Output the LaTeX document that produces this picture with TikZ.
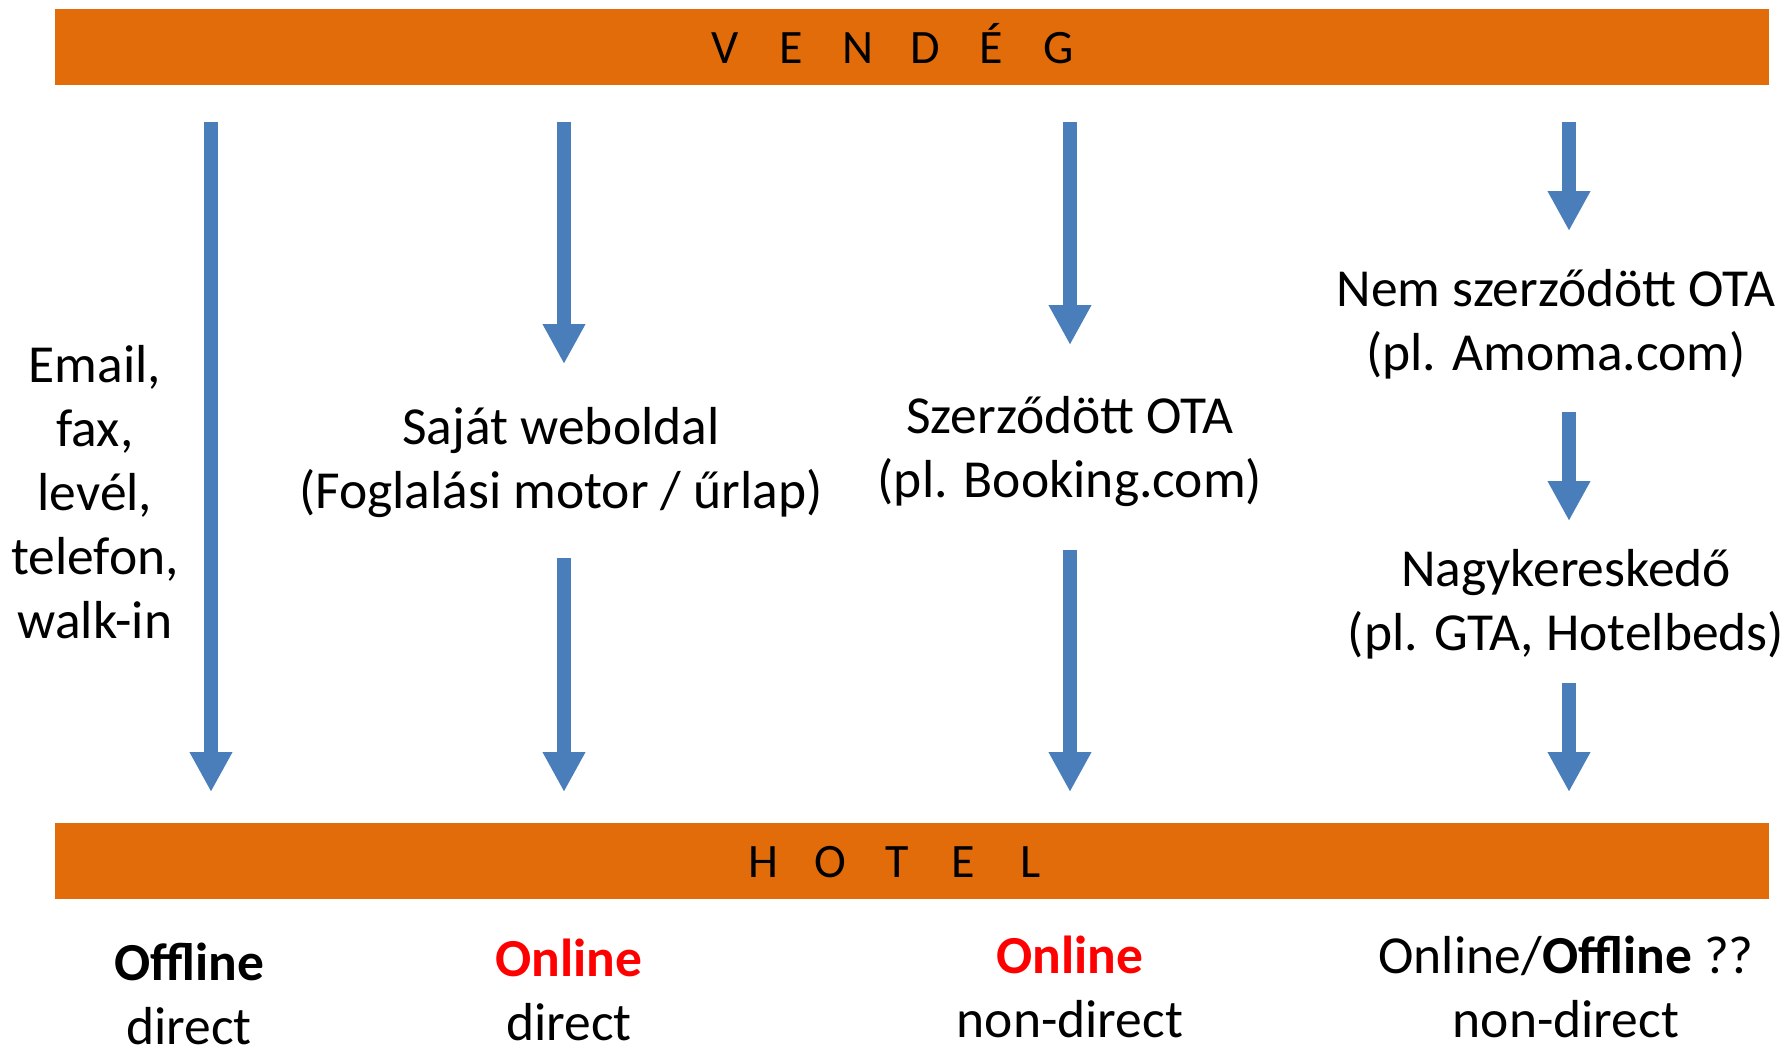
\documentclass[tikz,border=0pt]{standalone}
\usepackage{fontspec}
\setmainfont{Carlito}
\usetikzlibrary{arrows.meta}
\definecolor{barorange}{HTML}{E36C0A}
\definecolor{arrowblue}{HTML}{4A7EBB}
\definecolor{labelred}{HTML}{FF0000}
\newcommand\ltrbox[1]{\makebox[66.7pt]{#1}}
\begin{document}
\begin{tikzpicture}[x=1pt,y=-1pt,
  bar/.style={fill=barorange, draw=none, minimum width=1714pt, minimum height=76pt, inner sep=0pt},
  bartext/.style={anchor=base, font=\fontsize{48}{58}\selectfont, inner sep=0pt},
  txt/.style={anchor=base, align=center, font=\fontsize{53.5}{64}\selectfont, inner sep=0pt},
  flow/.style={draw=arrowblue, line width=14pt, -{Triangle[width=40pt,length=40pt]}},
]
\useasboundingbox (0,0) rectangle (1783,1045);
% bars
\node[bar] (vendeg) at (912,47) {};
\node[bar] (hotel) at (912,860.5) {};
\node[bartext] (vendegtxt) at (891.5,63) {\ltrbox{V}\ltrbox{E}\ltrbox{N}\ltrbox{D}\ltrbox{É}\ltrbox{G}};
\node[bartext] (hoteltxt) at (897,877) {\ltrbox{H}\ltrbox{O}\ltrbox{T}\ltrbox{E}\ltrbox{L}};
% texts (anchor base = baseline of last line)
\node[txt] (email) at (95,638) {Email,\\fax,\\levél,\\telefon,\\walk-in};
\node[txt] (sajat) at (561,508) {Saját weboldal\\(Foglalási motor / űrlap)};
\node[txt] (szerz) at (1070,497) {Szerződött OTA\\(pl. Booking.com)};
\node[txt] (nemszerz) at (1556,370) {Nem szerződött OTA\\(pl. Amoma.com)};
\node[txt] (nagyker) at (1566,650) {Nagykereskedő\\(pl. GTA, Hotelbeds)};
\node[txt] (lab1) at (189,1044) {\textbf{Offline}\\direct};
\node[txt] (lab2) at (569,1040) {\textcolor{labelred}{\textbf{Online}}\\direct};
\node[txt] (lab3) at (1070,1037) {\textcolor{labelred}{\textbf{Online}}\\non-direct};
\node[txt] (lab4) at (1566,1037) {Online/\textbf{Offline} ??\\non-direct};
% arrow end points
\coordinate (a1s) at (211,122);  \coordinate (a1e) at (211,792);
\coordinate (a2s) at (564,122);  \coordinate (a2e) at (564,364);
\coordinate (a3s) at (564,558);  \coordinate (a3e) at (564,792);
\coordinate (a4s) at (1070,122); \coordinate (a4e) at (1070,345);
\coordinate (a5s) at (1070,550); \coordinate (a5e) at (1070,792);
\coordinate (a6s) at (1569,122); \coordinate (a6e) at (1569,231);
\coordinate (a7s) at (1569,412); \coordinate (a7e) at (1569,521);
\coordinate (a8s) at (1569,683); \coordinate (a8e) at (1569,792);
\foreach \i in {1,...,8} {\draw[flow] (a\i s) -- (a\i e);}
\end{tikzpicture}
\end{document}
